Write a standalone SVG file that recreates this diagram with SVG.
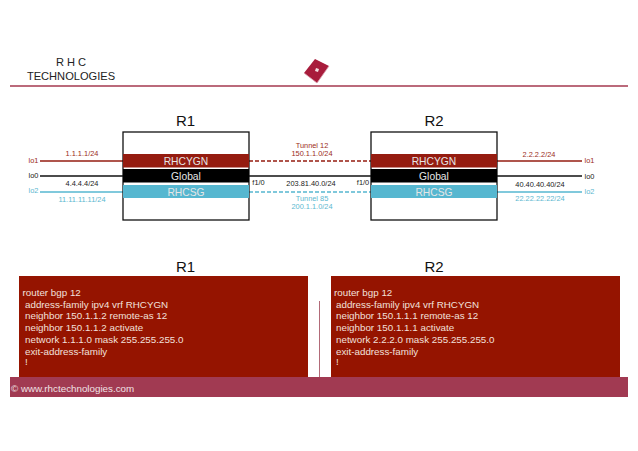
<svg xmlns="http://www.w3.org/2000/svg" width="638" height="451" viewBox="0 0 638 451">
<style>
text{font-family:"Liberation Sans",Arial,sans-serif}
.t{font-size:11.1px;fill:#222;text-anchor:middle}
.title{font-size:15px;fill:#111;text-anchor:middle}
.band{font-size:10.3px;fill:#e6e6e6;text-anchor:middle}
.s{font-size:7.4px;text-anchor:middle}
.r{fill:#9b2c22}.k{fill:#1a1a1a}.b{fill:#5cb8d0}
.cfg{font-size:9.8px;fill:#f2e0dc}
.box{fill:#fff;stroke:#111;stroke-width:1.3}
.lr{stroke:#951c10;stroke-width:1.5;fill:none}
.lk{stroke:#111;stroke-width:1.5;fill:none}
.lb{stroke:#56b7d0;stroke-width:1.5;fill:none}
.d{stroke-dasharray:4 2}
</style>
<rect width="638" height="451" fill="#fff"/>
<g id="header">
<text x="71" y="66" class="t">R H C</text>
<text x="71" y="80" class="t">TECHNOLOGIES</text>
<line x1="10" y1="86" x2="628" y2="86" stroke="#a4384f" stroke-width="1.4"/>
<polygon points="315,59 329,66 317,83 304,73" fill="#a81c3c"/>
<polyline points="304,73 317,83 329,66" fill="none" stroke="#d9a0ae" stroke-width="0.8"/>
<polygon points="316,68 319,69 318,72 315,71" fill="#f2dfe2"/>
</g>
<g id="connectors">
<line class="lr" x1="40" y1="161" x2="123" y2="161"/>
<line class="lk" x1="40" y1="176" x2="123" y2="176"/>
<line class="lb" x1="40" y1="192" x2="123" y2="192"/>
<line class="lr d" x1="249" y1="161" x2="371" y2="161"/>
<line class="lk" x1="249" y1="176" x2="371" y2="176"/>
<line class="lb d" x1="249" y1="192" x2="371" y2="192"/>
<line class="lr" x1="497" y1="161" x2="582" y2="161"/>
<line class="lk" x1="497" y1="176" x2="582" y2="176"/>
<line class="lb" x1="497" y1="192" x2="582" y2="192"/>
</g>
<g id="r1">
<text x="185.500" y="126" class="title">R1</text>
<rect class="box" x="123" y="132" width="126" height="88"/>
<rect x="123" y="154" width="126" height="13.500" fill="#951c10"/>
<rect x="123" y="169" width="126" height="13.500" fill="#000"/>
<rect x="123" y="185" width="126" height="13" fill="#56b7d0"/>
<text x="186" y="164.500" class="band">RHCYGN</text>
<text x="186" y="180" class="band">Global</text>
<text x="186" y="196" class="band">RHCSG</text>
</g>
<g id="r2">
<text x="434" y="126" class="title">R2</text>
<rect class="box" x="371" y="132" width="126" height="88"/>
<rect x="371" y="154" width="126" height="13.500" fill="#951c10"/>
<rect x="371" y="169" width="126" height="13.500" fill="#000"/>
<rect x="371" y="185" width="126" height="13" fill="#56b7d0"/>
<text x="434" y="164.500" class="band">RHCYGN</text>
<text x="434" y="180" class="band">Global</text>
<text x="434" y="196" class="band">RHCSG</text>
</g>
<g id="labels">
<text x="33.500" y="163" class="s r">lo1</text>
<text x="33.500" y="178" class="s k">lo0</text>
<text x="33.500" y="193" class="s b">lo2</text>
<text x="82" y="156" class="s r">1.1.1.1/24</text>
<text x="82" y="186" class="s k">4.4.4.4/24</text>
<text x="82" y="202" class="s b">11.11.11.11/24</text>
<text x="312" y="148" class="s r">Tunnel 12</text>
<text x="312" y="156" class="s r">150.1.1.0/24</text>
<text x="258.500" y="185" class="s k">f1/0</text>
<text x="311" y="186" class="s k">203.81.40.0/24</text>
<text x="363" y="185" class="s k">f1/0</text>
<text x="312" y="201" class="s b">Tunnel 85</text>
<text x="312" y="209" class="s b">200.1.1.0/24</text>
<text x="539" y="157" class="s r">2.2.2.2/24</text>
<text x="540" y="187" class="s k">40.40.40.40/24</text>
<text x="540" y="201" class="s b">22.22.22.22/24</text>
<text x="589.500" y="163" class="s r">lo1</text>
<text x="589.500" y="179" class="s k">lo0</text>
<text x="589.500" y="194" class="s b">lo2</text>
</g>
<g id="config-r1">
<text x="185.500" y="272" class="title">R1</text>
<rect x="19" y="276" width="289" height="102" fill="#951400"/>
<text class="cfg" x="22.500" y="296">router bgp 12</text>
<text class="cfg" x="25" y="307.500">address-family ipv4 vrf RHCYGN</text>
<text class="cfg" x="25" y="319">neighbor 150.1.1.2 remote-as 12</text>
<text class="cfg" x="25" y="331">neighbor 150.1.1.2 activate</text>
<text class="cfg" x="25" y="342.500">network 1.1.1.0 mask 255.255.255.0</text>
<text class="cfg" x="25" y="354.500">exit-address-family</text>
<text class="cfg" x="25" y="365">!</text>
</g>
<line x1="319.500" y1="301" x2="319.500" y2="378" stroke="#b26a78" stroke-width="1"/>
<g id="config-r2">
<text x="434" y="272" class="title">R2</text>
<rect x="331" y="276" width="289" height="102" fill="#951400"/>
<text class="cfg" x="334" y="296">router bgp 12</text>
<text class="cfg" x="336" y="307.500">address-family ipv4 vrf RHCYGN</text>
<text class="cfg" x="336" y="319">neighbor 150.1.1.1 remote-as 12</text>
<text class="cfg" x="336" y="331">neighbor 150.1.1.1 activate</text>
<text class="cfg" x="336" y="342.500">network 2.2.2.0 mask 255.255.255.0</text>
<text class="cfg" x="336" y="354.500">exit-address-family</text>
<text class="cfg" x="336" y="365">!</text>
</g>
<g id="footer">
<rect x="10" y="377" width="618" height="20" fill="#a13a52"/>
<text x="11" y="391.500" font-size="9.800" fill="#f0e2e5">© www.rhctechnologies.com</text>
</g>
</svg>
